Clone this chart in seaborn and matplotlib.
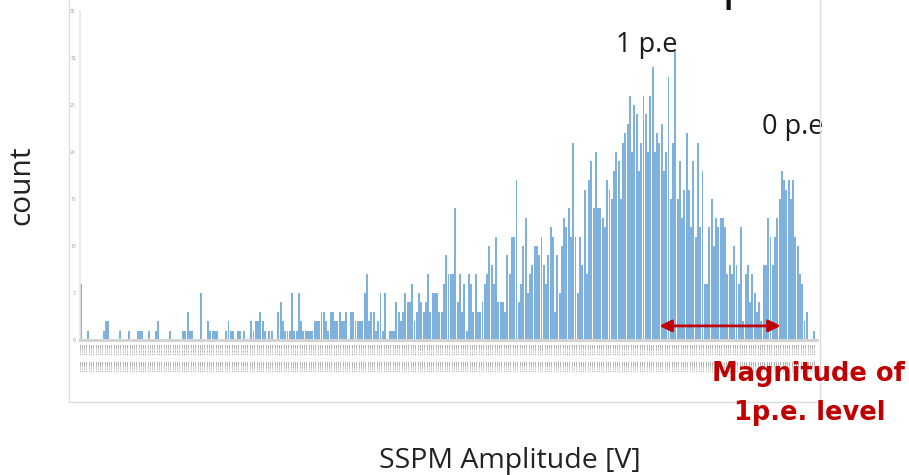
import matplotlib
matplotlib.use("Agg")
import matplotlib.pyplot as plt
import seaborn as sns
import pandas as pd
from matplotlib.patches import Rectangle

# counts per amplitude bin (left -> right)
counts = [
    6, 0, 0, 1, 0, 0, 0, 0, 0, 0, 1, 2, 2, 0, 0, 0, 0, 1, 0, 0, 0, 1, 0, 0, 0,
    1, 1, 1, 0, 0, 1, 0, 0, 1, 2, 0, 0, 0, 0, 1, 0, 0, 0, 0, 0, 1, 1, 3, 1, 1,
    0, 0, 0, 5, 0, 0, 2, 1, 1, 1, 1, 0, 0, 0, 1, 2, 1, 1, 0, 1, 1, 0, 1, 0, 0,
    2, 1, 2, 2, 3, 2, 1, 0, 1, 1, 0, 0, 3, 4, 2, 1, 1, 1, 5, 1, 1, 5, 2, 1, 1,
    1, 1, 1, 2, 2, 2, 3, 3, 2, 1, 3, 3, 2, 2, 3, 2, 2, 3, 0, 3, 3, 2, 2, 2, 2,
    5, 7, 2, 3, 3, 1, 2, 5, 1, 5, 0, 1, 1, 1, 4, 3, 2, 3, 5, 4, 4, 6, 2, 3, 5,
    4, 3, 4, 7, 3, 5, 5, 5, 3, 3, 6, 9, 7, 7, 7, 14, 4, 7, 3, 6, 1, 7, 6, 3, 7,
    3, 3, 4, 6, 7, 10, 8, 6, 11, 4, 4, 4, 3, 9, 7, 11, 11, 17, 4, 6, 10, 13, 5, 7, 8,
    10, 10, 9, 11, 8, 6, 9, 12, 11, 3, 9, 5, 10, 13, 12, 14, 11, 21, 11, 5, 11, 8, 16, 7, 17,
    19, 14, 20, 14, 14, 13, 12, 17, 16, 15, 18, 20, 19, 15, 21, 22, 23, 26, 20, 25, 24, 18, 21, 26, 24,
    20, 26, 29, 20, 22, 21, 23, 18, 20, 28, 15, 21, 31, 15, 19, 13, 16, 22, 16, 12, 19, 11, 21, 12, 18,
    6, 6, 12, 15, 10, 13, 12, 13, 13, 12, 7, 8, 7, 10, 8, 6, 12, 2, 7, 8, 4, 7, 5, 3, 4,
    2, 8, 8, 13, 11, 8, 11, 13, 15, 18, 17, 16, 17, 15, 17, 11, 10, 7, 6, 2, 3, 0, 0, 1, 0,
]

# amplitude bin labels (unreadable in the original, written as bin ranges)
bin_start = -0.0650
bin_width = 0.0002
amplitude_labels = [f"{bin_start + i * bin_width:.7f}  ~  {bin_start + (i + 1) * bin_width:.7f}"
                    for i in range(len(counts))]
y_ticks = [0, 5, 10, 15, 20, 25, 30, 35]

df = pd.DataFrame({"amplitude": amplitude_labels, "count": counts})

sns.set_theme(style="white")
plt.rcParams["font.family"] = ["Open Sans", "DejaVu Sans"]

W, H = 909, 475
fig = plt.figure(figsize=(W / 100, H / 100), dpi=100)
ax = fig.add_axes([80 / W, 1 - 340 / H, (817 - 80) / W, (340 - 11) / H])

sns.barplot(data=df, x="amplitude", y="count", color="#5B9BD5", saturation=1,
            width=0.85, alpha=0.78, linewidth=0, ax=ax)

ax.set_ylim(0, 35)
ax.set_yticks(y_ticks)
ax.set_yticklabels([str(t) for t in y_ticks], fontsize=3.5, color="#9a9a9a")
ax.tick_params(axis="y", length=0, pad=3)
ax.tick_params(axis="x", length=0, pad=3, labelrotation=90)
for lab in ax.get_xticklabels():
    lab.set_fontsize(1.35)
    lab.set_color("#404040")
    lab.set_family("DejaVu Sans Mono")
ax.set_xlabel("")
ax.set_ylabel("")
for s in ["top", "right"]:
    ax.spines[s].set_visible(False)
ax.spines["left"].set_color("#e6e6e6")
ax.spines["left"].set_linewidth(1.2)
ax.spines["bottom"].set_color("#d4d4d4")
ax.spines["bottom"].set_linewidth(2.2)

# chart area frame
fig.patches.append(Rectangle((69 / W, 1 - 402 / H), (820 - 69) / W, 402 / H + 0.05,
                             transform=fig.transFigure, fill=False,
                             edgecolor="#dcdcdc", linewidth=1))

# annotations
ax.text(249.5, 31.4, "1 p.e", ha="center", va="center", fontsize=19.5, color="#1a1a1a")
ax.text(313.7, 22.7, "0 p.e", ha="center", va="center", fontsize=19.5, color="#1a1a1a")
ax.annotate("", xy=(255.0, 1.5), xytext=(308.5, 1.5),
            arrowprops=dict(arrowstyle="<|-|>", color="#C00000", lw=2, mutation_scale=18,
                            shrinkA=0, shrinkB=0))

fig.text(808 / W, 1 - 374 / H, "Magnitude of", ha="center", va="center",
         fontsize=18.5, fontweight="bold", color="#C00000", family=["DejaVu Sans"])
fig.text(810 / W, 1 - 413 / H, "1p.e. level", ha="center", va="center",
         fontsize=18.5, fontweight="bold", color="#C00000", family=["DejaVu Sans"])

fig.text(22 / W, 1 - 185 / H, "count", rotation=90, ha="center", va="center",
         fontsize=21.5, color="#222222")
fig.text(510 / W, 1 - 461 / H, "SSPM Amplitude [V]", ha="center", va="center",
         fontsize=20.5, color="#222222")
# bottom of a cut-off title letter at the top edge
fig.text(722 / W, 1 + 2.5 / H, "p", ha="left", va="baseline", fontsize=38, color="#111111")

fig.savefig("out.png", dpi=100)
